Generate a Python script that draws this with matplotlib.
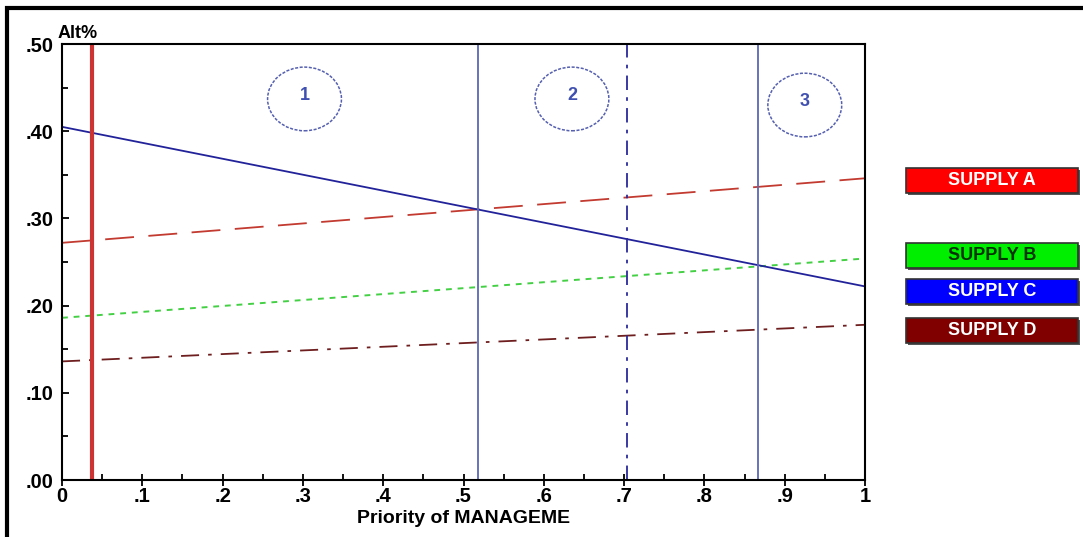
#Alt% vs Priority of MANAGEME
import matplotlib.pyplot as plt
from matplotlib.patches import Ellipse, Rectangle

plt.rcParams['font.family'] = ['Liberation Sans', 'DejaVu Sans']
plt.rcParams['font.weight'] = 'bold'
plt.rcParams['axes.labelweight'] = 'bold'

#数据
x_data = [0, 1]
supply_a = [0.272, 0.346]
supply_b = [0.186, 0.254]
supply_c = [0.405, 0.222]
supply_d = [0.136, 0.178]
names = ['SUPPLY A', 'SUPPLY B', 'SUPPLY C', 'SUPPLY D']
current_x = 0.037
switch_x = [0.518, 0.867]
mid_x = 0.704
zones = ['1', '2', '3']
zone_x = [0.302, 0.635, 0.925]
zone_y = [0.437, 0.437, 0.430]

fig = plt.figure(figsize=(10.83, 5.37), dpi=100)
#窗口边框
fig.patches.append(Rectangle((7/1083, -0.01), 1.02, 1 - 8/537 + 0.01, transform=fig.transFigure,
                             fill=False, edgecolor='black', linewidth=3))
ax = fig.add_axes([62/1083, 1 - 480/537, 803/1083, 436/537])

ax.plot(x_data, supply_a, color='#c23a30', linestyle=(0, (16, 8)), linewidth=1.3)
ax.plot(x_data, supply_b, color='#44d044', linestyle=(0, (3, 3)), linewidth=1.4)
ax.plot(x_data, supply_c, color='#22229a', linestyle='-', linewidth=1.3)
ax.plot(x_data, supply_d, color='#6e1e1e', linestyle=(0, (10, 5, 2, 5)), linewidth=1.3)

ax.axvline(current_x, color='#cc3333', linewidth=3)
for sx in switch_x:
    ax.axvline(sx, color='#5a68b4', linewidth=1.3)
ax.axvline(mid_x, color='#2a2a9a', linestyle=(0, (8, 4, 2, 4)), linewidth=1.3)

for z, zx, zy in zip(zones, zone_x, zone_y):
    ax.add_patch(Ellipse((zx, zy), 0.092, 0.073, fill=False, edgecolor='#5560b0',
                         linestyle=(0, (2, 1)), linewidth=1.1))
    ax.text(zx, zy + 0.004, z, ha='center', va='center', color='#4050b0', fontsize=13)

ax.set_xlim(0, 1)
ax.set_ylim(0, 0.5)
ax.set_xticks([i / 10 for i in range(11)])
ax.set_xticklabels(['0', '.1', '.2', '.3', '.4', '.5', '.6', '.7', '.8', '.9', '1'], fontsize=14.5)
ax.set_xticks([i / 20 for i in range(1, 20, 2)], minor=True)
ax.set_yticks([i / 10 for i in range(6)])
ax.set_yticklabels(['.00', '.10', '.20', '.30', '.40', '.50'], fontsize=14.5)
ax.set_yticks([0.05, 0.15, 0.25, 0.35, 0.45], minor=True)
ax.tick_params(which='major', direction='inout', length=8, width=1.3, pad=1)
ax.tick_params(which='minor', direction='in', length=4, width=1.3)
ax.tick_params(axis='y', which='major', direction='in', length=5, pad=6)
for s in ax.spines.values():
    s.set_linewidth(1.5)

ax.text(-0.005, 1.005, 'Alt%', transform=ax.transAxes, ha='left', va='bottom', fontsize=13)
ax.set_xlabel('Priority of MANAGEME', fontsize=14, labelpad=3)

#图例按钮
btn_colors = ['#ff0000', '#00ee00', '#0000ff', '#800000']
txt_colors = ['white', '#003300', 'white', 'white']
btn_tops = [167, 242, 278, 317]
for n, bc, tc, top in zip(names, btn_colors, txt_colors, btn_tops):
    x0, y0 = 906/1083, 1 - (top + 26)/537
    w, h = 172/1083, 25/537
    fig.patches.append(Rectangle((x0 + 2/1083, y0 - 2/537), w, h, transform=fig.transFigure,
                                 facecolor='#555555', edgecolor='none'))
    fig.patches.append(Rectangle((x0, y0), w, h, transform=fig.transFigure,
                                 facecolor=bc, edgecolor='#333333', linewidth=1.2))
    fig.text(x0 + w / 2, y0 + h / 2, n, ha='center', va='center', color=tc, fontsize=13)

plt.savefig('out.png', dpi=100)
